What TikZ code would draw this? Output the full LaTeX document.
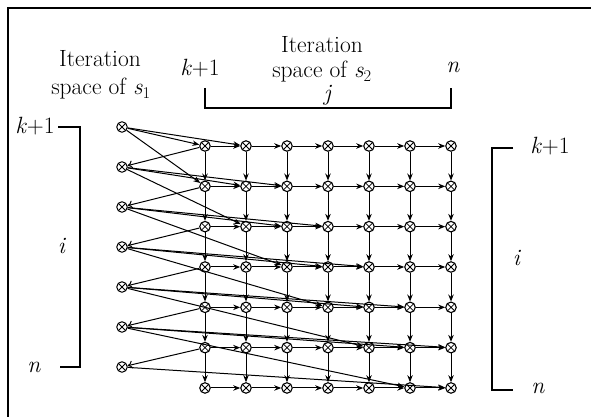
\documentclass[tikz,border=0pt]{standalone}
\usepackage{fontspec}
\usetikzlibrary{arrows.meta}
\newcommand{\vi}[1]{\textit{#1}}
\begin{document}
\begin{tikzpicture}[x=1pt,y=-1pt,
  lbl/.style={anchor=base,inner sep=0pt,font=\fontsize{23.5}{28}\selectfont},
  xnode/.style={circle,draw,line width=1.1pt,minimum size=10.5pt,inner sep=0pt,fill=white,
    path picture={\draw[line width=0.8pt]
      (path picture bounding box.north west)--(path picture bounding box.south east)
      (path picture bounding box.north east)--(path picture bounding box.south west);}},
  gnode/.style={xnode},
  snode/.style={xnode,line width=1pt},
  dep/.style={line width=1pt,-{Stealth[length=7pt,width=5.5pt]}},
  back/.style={line width=1pt,-{To[length=5pt,width=8pt]}},
  brk/.style={line width=1.3pt}
]
\useasboundingbox (0,0) rectangle (591,417);
\draw[line width=1.3pt] (8,417) -- (8,8) -- (591,8);

% texts
\node[lbl] (t1a) at (100,67) {Iteration};
\node[lbl] (t1b) at (101,95) {space of \vi{s}\textsubscript{1}};
\node[lbl] (t2a) at (322,53) {Iteration};
\node[lbl] (t2b) at (322,78) {space of \vi{s}\textsubscript{2}};
\node[lbl] (jk) at (200,76) {\vi{k}+1};
\node[lbl] (jn) at (453,73) {\vi{n}};
\node[lbl] (jj) at (328,101) {\vi{j}};
\node[lbl] (lk) at (35,133) {\vi{k}+1};
\node[lbl] (ln) at (34,372) {\vi{n}};
\node[lbl] (li) at (62,253) {\vi{i}};
\node[lbl] (rk) at (550,153) {\vi{k}+1};
\node[lbl] (rn) at (538,393) {\vi{n}};
\node[lbl] (ri) at (517,265) {\vi{i}};

% brackets
\draw[brk] (205,88) -- (205,108) -- (451,108) -- (451,88);
\draw[brk] (58,127) -- (80,127) -- (80,367) -- (60,367);
\draw[brk] (513,148) -- (492,148) -- (492,390) -- (513,390);

% nodes
\foreach \r in {1,...,7} {
  \node[snode] (s\r) at (122,{127+40*(\r-1)}) {};
  \foreach \c in {1,...,7}
    \node[gnode] (g\r-\c) at ({205+41*(\c-1)},{146+40.33*(\r-1)}) {};
}

% grid edges
\foreach \r in {1,...,7} {
  \foreach \c in {1,...,6} {
    \pgfmathtruncatemacro{\cnext}{\c+1}
    \draw[dep] (g\r-\c) -- (g\r-\cnext);
  }
}
\foreach \r in {1,...,6} {
  \pgfmathtruncatemacro{\rnext}{\r+1}
  \foreach \c in {1,...,7} {
    \draw[dep] (g\r-\c) -- (g\rnext-\c);
  }
}

% dependences between s1 and s2
\foreach \r in {1,...,7} {
  \draw[dep] (s\r) -- (g\r-\r);
}
\foreach \r in {1,...,6} {
  \pgfmathtruncatemacro{\rnext}{\r+1}
  \draw[dep] (s\r) -- (g\r-\rnext);
  \draw[dep] (s\r) -- (g\rnext-\r);
  \draw[back] (g\r-1) -- (s\rnext);
}
\end{tikzpicture}
\end{document}
